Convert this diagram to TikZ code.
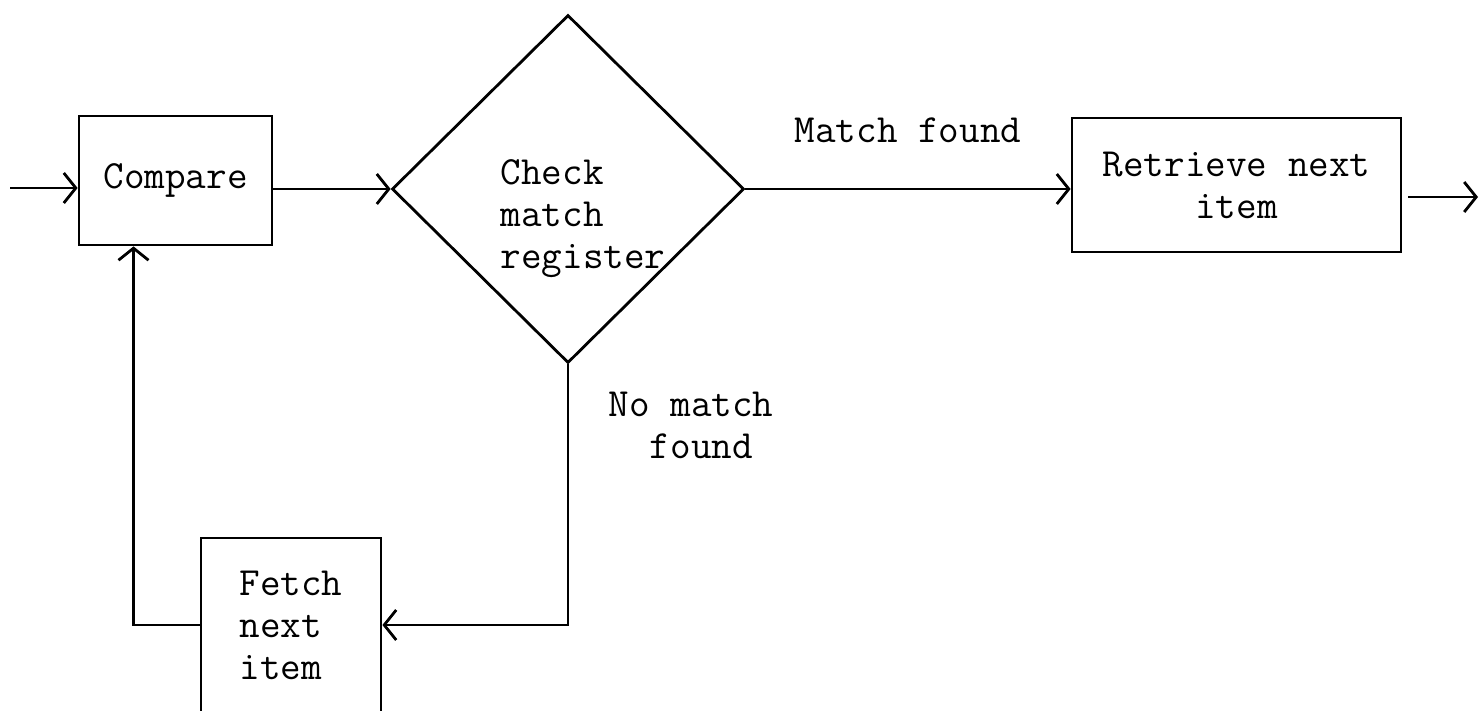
\documentclass[tikz,border=0pt]{standalone}
\usepackage{tikz}
\usetikzlibrary{arrows.meta,positioning,shapes.geometric}

\begin{document}
\begin{tikzpicture}[x=0.5pt,y=-0.5pt,line width=1.4pt,>={Straight Barb[length=6pt,width=15pt]},
  box/.style={draw,line width=1.4pt,inner sep=0pt},
  txt/.style={font=\fontsize{20}{21}\selectfont\ttfamily}]
\useasboundingbox (0,0) rectangle (1482,711);
\node[box,txt,minimum width=96.5pt,minimum height=64.5pt] (compare) at (175.5,180.5) {Compare};
\node[box,diamond,minimum width=176pt,minimum height=174pt] (check) at (568,189) {};
\node[txt,align=left] (checktext) at (583,219) {Check\\match\\register};
\node[box,txt,align=center,minimum width=164.5pt,minimum height=67pt] (retrieve) at (1236.5,185) {Retrieve next\\item};
\node[box,txt,align=left,minimum width=90pt,minimum height=87pt] (fetch) at (291,625) {Fetch\\next\\item};
\node[txt] (matchlbl) at (908,130) {Match found};
\node[txt,align=left] (nomatchlbl) at (691,425) {No match\\\hphantom{No}found};
\coordinate (in) at (10,188);
\coordinate (out) at (1478,197);
% main line and the loop back
\draw[->] (in) -- (in -| compare.west);
\draw[->] (compare.east |- check.west) -- (check.west);
\draw[->] (check.east) -- (check.east -| retrieve.west);
\draw[->] (retrieve.east |- out) ++(3pt,0) -- (out);
\draw[->] (check.south) |- (fetch.east);
\draw[->] (fetch.west) -| ([xshift=-21pt]compare.south);
\end{tikzpicture}
\end{document}
